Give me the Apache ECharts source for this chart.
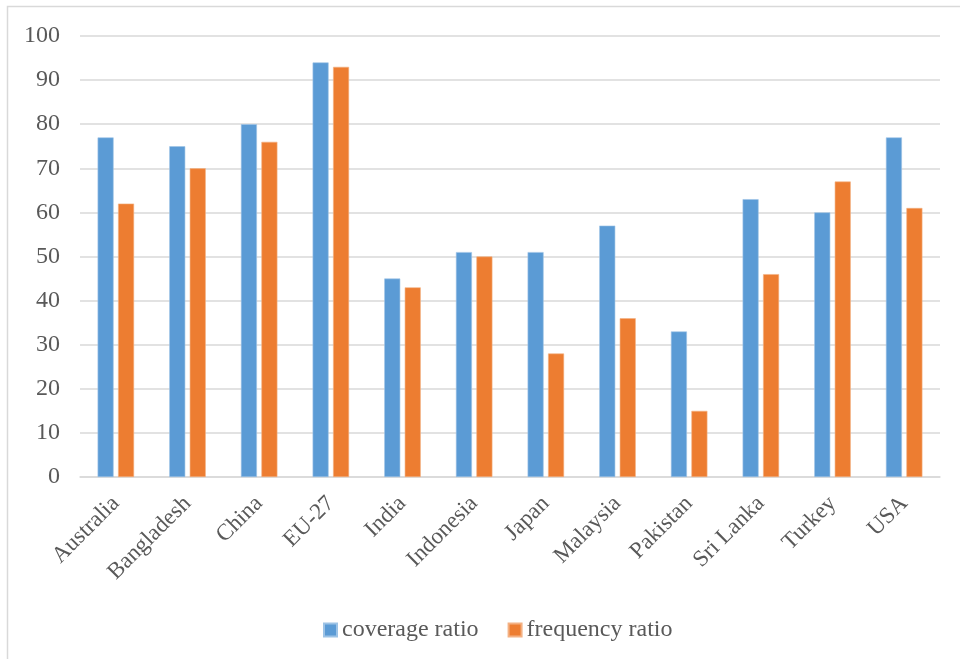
<!DOCTYPE html>
<html>
<head>
<meta charset="utf-8">
<script src="https://cdn.jsdelivr.net/npm/echarts@6/dist/echarts.min.js"></script>
<style>
  html, body { margin: 0; padding: 0; background: #fff; }
  #chart { width: 960px; height: 659px; }
</style>
</head>
<body>
<div id="chart"></div>
<script>
// Countries on the x axis
const categories = ['Australia', 'Bangladesh', 'China', 'EU-27', 'India', 'Indonesia',
  'Japan', 'Malaysia', 'Pakistan', 'Sri Lanka', 'Turkey', 'USA'];
// Ratio values per country
const coverageRatio = [77, 75, 80, 94, 45, 51, 51, 57, 33, 63, 60, 77];
const frequencyRatio = [62, 70, 76, 93, 43, 50, 28, 36, 15, 46, 67, 61];
const seriesNames = ['coverage ratio', 'frequency ratio'];

const font = '"Liberation Serif", "Times New Roman", serif';
const chart = echarts.init(document.getElementById('chart'));

chart.setOption({
  animation: false,
  textStyle: { fontFamily: font },
  graphic: [{
    type: 'rect',
    shape: { x: 7.5, y: 6.5, width: 970, height: 670 },
    style: { fill: 'none', stroke: '#d9d9d9', lineWidth: 1.5 },
    silent: true
  }],
  grid: { left: 80, right: 20, top: 36, bottom: 182, containLabel: false },
  legend: {
    bottom: 12,
    left: 318,
    itemWidth: 13,
    itemHeight: 13,
    itemGap: 29,
    icon: 'rect',
    textStyle: { fontFamily: font, fontSize: 24, color: '#595959' },
    data: seriesNames
  },
  xAxis: {
    type: 'category',
    data: categories,
    axisLine: { lineStyle: { color: '#d9d9d9', width: 1.5 } },
    axisTick: { show: false },
    axisLabel: {
      rotate: 45,
      interval: 0,
      margin: 23,
      fontFamily: font,
      fontSize: 23,
      color: '#595959'
    }
  },
  yAxis: {
    type: 'value',
    min: 0,
    max: 100,
    interval: 10,
    axisLine: { show: false },
    axisTick: { show: false },
    splitLine: { lineStyle: { color: '#d9d9d9', width: 1.5 } },
    axisLabel: { fontFamily: font, fontSize: 24, color: '#595959', margin: 20 }
  },
  series: [
    {
      name: seriesNames[0],
      type: 'bar',
      data: coverageRatio,
      barWidth: 16,
      barGap: '28%',
      itemStyle: { color: '#5b9bd5', borderColor: '#9dc3e6', borderWidth: 0.6 }
    },
    {
      name: seriesNames[1],
      type: 'bar',
      data: frequencyRatio,
      barWidth: 16,
      barGap: '28%',
      itemStyle: { color: '#ed7d31', borderColor: '#f4b183', borderWidth: 0.6 }
    }
  ]
});
</script>
</body>
</html>
